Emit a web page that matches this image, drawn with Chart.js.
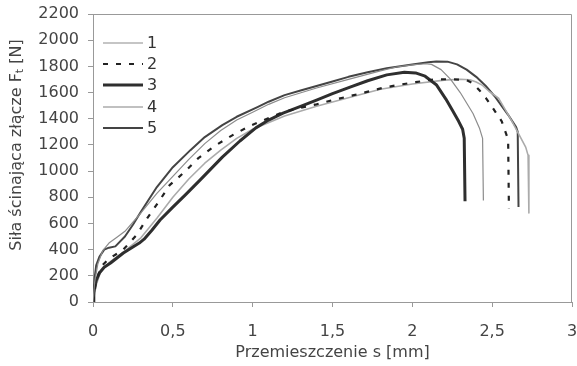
<!DOCTYPE html>
<html>
<head>
<meta charset="utf-8">
<script src="https://cdn.jsdelivr.net/npm/chart.js@4.4.1/dist/chart.umd.min.js"></script>
<style>
  html, body { margin: 0; padding: 0; background: #fff; }
  #wrap { width: 577px; height: 366px; position: relative; }
</style>
</head>
<body>
<div id="wrap"><canvas id="forceChart"></canvas></div>
<script>
//==============================Data============================

const seriesNames = ['1', '2', '3', '4', '5'];
const xTicks = [0, 0.5, 1, 1.5, 2, 2.5, 3];

// curve 1 - thin gray
const s1 = [0, 0.01, 0.03, 0.06, 0.1, 0.15, 0.2, 0.3, 0.4, 0.5, 0.6, 0.7, 0.8, 0.9, 1.0, 1.1, 1.2, 1.4, 1.6, 1.8, 1.9, 2.0, 2.08, 2.12, 2.18, 2.24, 2.3, 2.38, 2.42, 2.44, 2.445];
const f1 = [0, 150, 290, 390, 450, 495, 540, 680, 830, 960, 1090, 1210, 1310, 1390, 1450, 1510, 1560, 1635, 1700, 1765, 1795, 1812, 1820, 1815, 1775, 1700, 1600, 1440, 1330, 1250, 775];

// curve 2 - dashed
const s2 = [0, 0.02, 0.05, 0.1, 0.19, 0.275, 0.34, 0.41, 0.48, 0.575, 0.66, 0.76, 0.875, 0.98, 1.19, 1.29, 1.4, 1.5, 1.61, 1.71, 1.81, 1.92, 2.02, 2.13, 2.23, 2.34, 2.38, 2.42, 2.46, 2.5, 2.56, 2.6, 2.605];
const f2 = [0, 160, 270, 330, 400, 515, 641, 763, 893, 995, 1099, 1191, 1275, 1344, 1450, 1481, 1510, 1542, 1573, 1603, 1634, 1660, 1679, 1700, 1702, 1695, 1670, 1618, 1560, 1489, 1380, 1240, 710];

// curve 3 - thick
const s3 = [0, 0.005, 0.01, 0.02, 0.04, 0.07, 0.11, 0.19, 0.25, 0.29, 0.32, 0.37, 0.42, 0.5, 0.58, 0.67, 0.81, 0.92, 1.02, 1.1, 1.19, 1.3, 1.4, 1.5, 1.61, 1.72, 1.84, 1.95, 2.02, 2.08, 2.15, 2.21, 2.25, 2.29, 2.315, 2.325, 2.33];
const f3 = [0, 70, 115, 165, 221, 265, 298, 374, 420, 450, 480, 550, 626, 725, 820, 931, 1107, 1230, 1330, 1390, 1443, 1495, 1542, 1592, 1641, 1690, 1735, 1755, 1750, 1725, 1660, 1550, 1466, 1380, 1320, 1250, 770];

// curve 4 - light gray
const s4 = [0, 0.02, 0.05, 0.1, 0.2, 0.3, 0.4, 0.5, 0.6, 0.7, 0.8, 0.9, 1.0, 1.2, 1.4, 1.6, 1.8, 2.0, 2.2, 2.3, 2.36, 2.4, 2.44, 2.48, 2.54, 2.62, 2.71, 2.725, 2.73];
const f4 = [0, 130, 240, 300, 390, 490, 640, 800, 940, 1060, 1160, 1250, 1320, 1420, 1495, 1560, 1625, 1665, 1695, 1702, 1698, 1680, 1655, 1610, 1557, 1389, 1183, 1120, 680];

// curve 5 - dark
const s5 = [0, 0.01, 0.02, 0.04, 0.07, 0.1, 0.14, 0.2, 0.25, 0.3, 0.4, 0.5, 0.61, 0.7, 0.81, 0.9, 1.03, 1.1, 1.2, 1.3, 1.4, 1.5, 1.6, 1.72, 1.84, 2.0, 2.1, 2.15, 2.22, 2.28, 2.34, 2.4, 2.46, 2.52, 2.6, 2.65, 2.66, 2.665];
const f5 = [0, 180, 280, 345, 400, 415, 425, 500, 590, 690, 878, 1030, 1160, 1260, 1351, 1415, 1489, 1530, 1580, 1615, 1650, 1685, 1720, 1755, 1786, 1815, 1832, 1838, 1836, 1815, 1775, 1720, 1650, 1565, 1430, 1336, 1300, 725];

//==============================Styles============================

const FONT = "'DejaVu Sans', sans-serif";

function toPoints(xs, ys) {
    return xs.map((x, i) => ({ x: x, y: ys[i] }));
}

const seriesStyles = [
    { color: '#8c8c8c', width: 1.2, dash: [] },
    { color: '#222222', width: 2.2, dash: [5, 8] },
    { color: '#2e2e2e', width: 3, dash: [] },
    { color: '#ababab', width: 1.6, dash: [] },
    { color: '#444444', width: 2, dash: [] }
];

const allX = [s1, s2, s3, s4, s5];
const allY = [f1, f2, f3, f4, f5];

const datasets = seriesNames.map((name, i) => ({
    label: name,
    data: toPoints(allX[i], allY[i]),
    showLine: true,
    borderColor: seriesStyles[i].color,
    borderWidth: seriesStyles[i].width,
    borderDash: seriesStyles[i].dash,
    borderJoinStyle: 'round',
    pointRadius: 0,
    tension: 0,
    fill: false
}));

// no automatic padding from tick labels, plot box is set by layout padding
function noPad(scale) {
    scale.paddingLeft = 0;
    scale.paddingRight = 0;
    scale.paddingTop = 0;
    scale.paddingBottom = 0;
}

//==============================Plugins============================

// box round the plot + legend + y title with subscript
const decorations = {
    id: 'decorations',
    afterDraw(chart) {
        const ctx = chart.ctx;
        const a = chart.chartArea;
        ctx.save();
        ctx.strokeStyle = '#999';
        ctx.lineWidth = 1;
        ctx.beginPath();
        ctx.moveTo(a.left, a.top + 0.5);
        ctx.lineTo(a.right - 0.5, a.top + 0.5);
        ctx.lineTo(a.right - 0.5, a.bottom);
        ctx.stroke();

        // legend
        const rows = [43, 64, 85, 107, 128];
        ctx.font = '16px ' + FONT;
        ctx.textBaseline = 'middle';
        ctx.fillStyle = '#333';
        datasets.forEach((ds, i) => {
            ctx.strokeStyle = ds.borderColor;
            ctx.lineWidth = ds.borderWidth;
            ctx.setLineDash(ds.borderDash);
            ctx.beginPath();
            ctx.moveTo(103, rows[i]);
            ctx.lineTo(143, rows[i]);
            ctx.stroke();
            ctx.setLineDash([]);
            ctx.fillText(ds.label, 147, rows[i] + 1);
        });

        // y title
        const parts = [
            { t: 'Siła ścinająca złącze F', size: 16, dy: 0 },
            { t: 't', size: 11, dy: 3 },
            { t: ' [N]', size: 16, dy: 0 }
        ];
        let total = 0;
        parts.forEach(p => {
            ctx.font = p.size + 'px ' + FONT;
            p.w = ctx.measureText(p.t).width;
            total += p.w;
        });
        ctx.translate(17, 145);
        ctx.rotate(-Math.PI / 2);
        ctx.textBaseline = 'middle';
        ctx.fillStyle = '#444';
        let x = -total / 2;
        parts.forEach(p => {
            ctx.font = p.size + 'px ' + FONT;
            ctx.fillText(p.t, x, p.dy);
            x += p.w;
        });
        ctx.restore();
    }
};

//==============================Chart============================

const ctx = document.getElementById('forceChart');

new Chart(ctx, {
    type: 'scatter',
    data: { datasets: datasets },
    options: {
        responsive: true,
        maintainAspectRatio: false,
        animation: false,
        layout: { padding: { top: 14, right: 5, left: 0, bottom: 0 } },
        plugins: {
            legend: { display: false },
            tooltip: { enabled: false }
        },
        scales: {
            x: {
                type: 'linear',
                min: 0,
                max: 3,
                afterBuildTicks(scale) {
                    scale.ticks = xTicks.map(v => ({ value: v }));
                },
                afterFit(scale) { scale.height = 64; noPad(scale); },
                ticks: {
                    color: '#444',
                    font: { family: FONT, size: 16 },
                    padding: 15,
                    maxRotation: 0,
                    callback: v => String(v).replace('.', ',')
                },
                grid: { drawOnChartArea: false, tickLength: 5, color: '#999' },
                border: { color: '#999' },
                title: {
                    display: true,
                    text: 'Przemieszczenie s [mm]',
                    color: '#444',
                    font: { family: FONT, size: 16 },
                    padding: { top: 0, bottom: 4 }
                }
            },
            y: {
                min: 0,
                max: 2200,
                afterFit(scale) { scale.width = 93; noPad(scale); },
                ticks: {
                    stepSize: 200,
                    color: '#444',
                    font: { family: FONT, size: 16 },
                    padding: 9,
                    callback: v => String(v)
                },
                grid: { drawOnChartArea: false, tickLength: 5, color: '#999' },
                border: { color: '#999' }
            }
        }
    },
    plugins: [decorations]
});
</script>
</body>
</html>
